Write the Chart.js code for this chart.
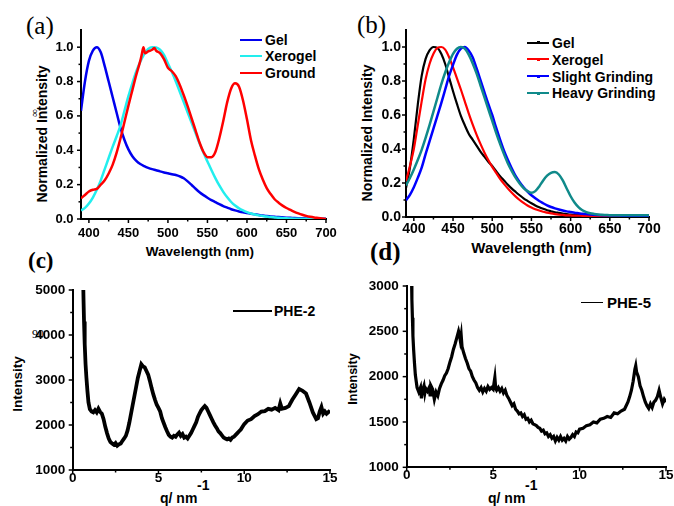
<!DOCTYPE html>
<html><head><meta charset="utf-8">
<script src="https://cdn.jsdelivr.net/npm/chart.js@4"></script>
<style>
body{margin:0;background:#fff;}
#wrap{position:relative;width:674px;height:506px;overflow:hidden;background:#fff;font-family:'Liberation Sans',Arial,sans-serif;font-weight:bold;color:#000}
canvas{position:absolute;left:0;top:0}
.t{position:absolute;white-space:nowrap;line-height:1}
.s{font-family:'Liberation Serif','Times New Roman',serif}
.r{transform:translate(-50%,-50%) rotate(-90deg)}
.c{transform:translateX(-50%)}
.ln{position:absolute}
</style></head><body><div id="wrap">

<div class="t s" style="left:26px;top:13px;font-size:25px;font-weight:normal">(a)</div>
<div class="t s" style="left:357px;top:12px;font-size:25px;font-weight:normal">(b)</div>
<div class="t s" style="left:28px;top:248.7px;font-size:23px;font-weight:bold">(c)</div>
<div class="t s" style="left:370px;top:239px;font-size:25px;font-weight:bold">(d)</div>

<div class="t r" style="left:41.7px;top:134px;font-size:14px">Normalized Intensity</div>
<div class="t s r" style="left:34px;top:112.5px;font-size:11px;font-weight:normal">∞</div>
<div class="t c" style="left:200px;top:244.6px;font-size:13.5px">Wavelength (nm)</div>
<div class="t r" style="left:366.7px;top:132.5px;font-size:14px">Normalized Intensity</div>
<div class="t c" style="left:531.5px;top:239.6px;font-size:15px">Wavelength (nm)</div>
<div class="t r" style="left:17.5px;top:384px;font-size:13.5px">Intensity</div>
<div class="t s" style="left:32px;top:327.5px;font-size:12px;font-weight:normal">90</div>
<div class="t" style="left:160px;top:491px;font-size:14px">q/ nm</div>
<div class="t" style="left:197px;top:478px;font-size:14px">-1</div>
<div class="t r" style="left:352.5px;top:379px;font-size:12.5px">Intensity</div>
<div class="t" style="left:488px;top:491px;font-size:14px">q/ nm</div>
<div class="t" style="left:525px;top:478px;font-size:14px">-1</div>

<div class="ln" style="left:240px;top:38.8px;width:22px;height:2.5px;background:#0000ee"></div>
<div class="t" style="left:265px;top:33.2px;font-size:14px">Gel</div>
<div class="ln" style="left:240px;top:54.8px;width:22px;height:2.5px;background:#22eeee"></div>
<div class="t" style="left:265px;top:49.2px;font-size:14px">Xerogel</div>
<div class="ln" style="left:240px;top:71.5px;width:22px;height:2.5px;background:#ff0000"></div>
<div class="t" style="left:265px;top:65.9px;font-size:14px">Ground</div>

<div class="ln" style="left:527px;top:41.5px;width:22px;height:2px;background:#000"></div>
<div class="ln" style="left:536.5px;top:41px;width:3px;height:3px;background:#000"></div>
<div class="t" style="left:552px;top:35.7px;font-size:14px">Gel</div>
<div class="ln" style="left:527px;top:58.4px;width:22px;height:2px;background:#ff0000"></div>
<div class="ln" style="left:536.5px;top:57.9px;width:3px;height:3px;background:#ff0000"></div>
<div class="t" style="left:552px;top:52.6px;font-size:14px">Xerogel</div>
<div class="ln" style="left:527px;top:75.3px;width:22px;height:2px;background:#0000ff"></div>
<div class="ln" style="left:536.5px;top:74.8px;width:3px;height:3px;background:#0000ff"></div>
<div class="t" style="left:552px;top:69.5px;font-size:14px">Slight Grinding</div>
<div class="ln" style="left:527px;top:92.2px;width:22px;height:2px;background:#108a8a"></div>
<div class="ln" style="left:536.5px;top:91.7px;width:3px;height:3px;background:#108a8a"></div>
<div class="t" style="left:552px;top:86.4px;font-size:14px">Heavy Grinding</div>

<div class="ln" style="left:233px;top:309.5px;width:39px;height:2.5px;background:#000"></div>
<div class="t" style="left:274px;top:303.9px;font-size:14px">PHE-2</div>
<div class="ln" style="left:581px;top:302px;width:22px;height:1.4px;background:#000"></div>
<div class="t" style="left:607px;top:295.4px;font-size:15px">PHE-5</div>

<canvas id="ca" width="674" height="506"></canvas>
<canvas id="cb" width="674" height="506"></canvas>
<canvas id="cc" width="674" height="506"></canvas>
<canvas id="cd" width="674" height="506"></canvas>
</div>
<script>
// ---------- data ----------
const wl5 = [390,395,400,405,410,415,420,425,430,435,440,445,450,455,460,465,470,475,480,485,490,495,500,505,510,515,520,525,530,535,540,545,550,555,560,565,570,575,580,585,590,595,600,605,610,615,620,625,630,635,640,645,650,655,660,665,670,675,680,685,690,695,700];

// tick labels
const wlTicks = [400,450,500,550,600,650,700];
const normTicks = [0.0,0.2,0.4,0.6,0.8,1.0];
const qTicks = [0,5,10,15];
const cTicksY = [1000,2000,3000,4000,5000];
const dTicksY = [1000,1500,2000,2500,3000];

// panel (a)
const aGel = [0.63,0.80,0.92,0.98,1.00,0.97,0.89,0.80,0.71,0.62,0.53,0.46,0.405,
  0.365,0.338,0.32,0.308,0.298,0.29,0.284,0.277,0.271,0.266,
  0.261,0.256,0.248,0.237,0.219,0.198,0.176,0.156,0.139,0.124,
  0.11,0.098,0.086,0.075,0.066,0.057,0.05,0.044,0.039,0.035,
  0.031,0.027,0.023,0.02,0.017,0.015,0.013,0.011,0.0095,0.008,
  0.007,0.006,0.005,0.004,0.0035,0.003,0.0025,0.002,0.0015,0.001];
const aXerogel = [0.05,0.065,0.09,0.125,0.17,0.225,0.29,0.355,0.42,0.48,0.545,0.63,0.715,
  0.79,0.86,0.915,0.96,0.99,1.0,0.998,0.985,0.955,0.905,
  0.855,0.80,0.74,0.68,0.62,0.56,0.50,0.44,0.385,0.335,
  0.285,0.238,0.195,0.158,0.126,0.099,0.078,0.062,0.05,0.04,
  0.032,0.026,0.021,0.017,0.014,0.011,0.009,0.007,0.0055,0.004,
  0.003,0.002,0.0015,0.001,0.0008,0.0005,0.0003,0.0002,0.0001,0];
const aGroundWl = [390,395,400,405,410,415,420,425,430,435,440,445,450,455,460,465,467,469,471,475,480,483,485,490,495,500,505,510,515,520,525,530,535,540,545,550,555,560,565,570,575,580,585,590,595,600,605,610,615,620,625,630,635,640,645,650,655,660,665,670,675,680,685,690,695,700];
const aGround = [0.12,0.14,0.16,0.17,0.175,0.2,0.225,0.265,0.315,0.385,0.47,0.565,0.66,0.75,0.84,0.92,
  0.96,1.0,0.965,0.975,0.985,0.995,0.98,
  0.965,0.93,0.88,0.86,0.83,0.78,0.72,0.655,0.585,0.515,0.445,0.39,0.36,0.36,0.39,0.47,0.57,0.68,0.76,0.79,0.77,0.69,0.58,
  0.46,0.37,0.29,0.23,0.18,0.145,0.115,0.095,0.078,0.064,0.053,0.042,0.033,0.025,0.018,0.013,0.009,0.006,0.003,0.0];

// panel (b)
const bGel = [0.17,0.29,0.46,0.66,0.83,0.93,0.98,1.0,0.995,0.96,0.9,0.82,0.74,
  0.665,0.595,0.54,0.49,0.455,0.42,0.385,0.355,0.325,0.30,
  0.27,0.24,0.215,0.19,0.167,0.147,0.128,0.11,0.095,0.081,
  0.068,0.057,0.048,0.04,0.034,0.028,0.024,0.02,0.017,0.014,
  0.012,0.011,0.01,0.009,0.009,0.008,0.008,0.008,0.008,0.008,
  0.008,0.008,0.008,0.008,0.008,0.008,0.008,0.008,0.008,0.008];
const bXerogel = [0.21,0.3,0.4,0.54,0.68,0.81,0.9,0.96,0.995,1.0,0.985,0.94,0.88,
  0.815,0.75,0.68,0.61,0.545,0.485,0.43,0.38,0.335,0.295,
  0.26,0.225,0.195,0.168,0.143,0.12,0.1,0.083,0.068,0.056,
  0.046,0.038,0.031,0.026,0.021,0.017,0.014,0.012,0.01,0.009,
  0.008,0.008,0.007,0.007,0.007,0.007,0.007,0.007,0.007,0.007,
  0.007,0.007,0.007,0.007,0.007,0.007,0.007,0.007,0.007,0.007];
const bSlight = [0.098,0.13,0.175,0.23,0.29,0.37,0.445,0.52,0.595,0.67,0.75,0.83,0.895,
  0.955,0.99,1.0,0.98,0.94,0.875,0.805,0.735,0.665,0.6,
  0.525,0.455,0.39,0.335,0.285,0.24,0.205,0.175,0.15,0.128,
  0.11,0.094,0.081,0.069,0.059,0.051,0.044,0.038,0.033,0.029,
  0.025,0.022,0.019,0.017,0.015,0.013,0.012,0.011,0.01,0.009,
  0.009,0.009,0.008,0.008,0.008,0.008,0.008,0.008,0.008,0.008];
const bHeavy = [0.186,0.23,0.28,0.335,0.395,0.465,0.54,0.62,0.7,0.78,0.85,0.91,0.96,
  0.99,1.0,0.99,0.955,0.905,0.845,0.775,0.705,0.635,0.565,
  0.495,0.43,0.37,0.315,0.27,0.23,0.197,0.17,0.152,0.142,
  0.152,0.18,0.215,0.243,0.26,0.264,0.25,0.215,0.168,0.122,
  0.085,0.058,0.04,0.029,0.022,0.018,0.015,0.013,0.012,0.011,
  0.011,0.01,0.01,0.01,0.01,0.01,0.01,0.01,0.01,0.01];

// panel (c)
const cQ = [0.60,0.63,0.66,0.70,0.75,0.80,0.86,0.92,1.0,1.1,1.2,1.3,1.4,1.5,1.6,1.7,1.8,1.9,2.0,2.1,2.2,2.3,2.4,2.5,2.6,2.7,2.8,2.9,3.0,3.1,3.2,3.3,3.4,3.5,3.6,3.7,3.8,3.9,4.0,4.1,4.2,4.3,4.4,4.5,4.6,4.7,4.8,4.9,5.0,5.1,5.2,5.3,5.4,5.5,5.6,5.7,5.8,5.9,6.0,6.1,6.2,6.3,6.4,6.5,6.6,6.7,6.8,6.9,7.0,7.1,7.2,7.3,7.4,7.5,7.6,7.7,7.8,7.9,8.0,8.1,8.2,8.3,8.4,8.5,8.6,8.7,8.8,8.9,9.0,9.1,9.2,9.3,9.4,9.5,9.6,9.7,9.8,9.9,10.0,10.2,10.4,10.6,10.8,11.0,11.2,11.4,11.6,11.8,12.0,12.1,12.2,12.4,12.6,12.8,13.0,13.2,13.3,13.4,13.6,13.8,14.0,14.2,14.3,14.4,14.5,14.6,14.7,14.8,15.0];
const cI = [5400,4800,4300,3800,3350,3050,2750,2500,2350,2300,2280,2330,2280,2360,2290,2250,2130,1960,1820,1700,1620,1590,1560,1600,1540,1570,1590,1650,1700,1760,1880,2050,2250,2450,2650,2850,3050,3200,3350,3300,3280,3200,3120,2980,2820,2680,2560,2450,2380,2300,2150,2050,1950,1860,1780,1740,1720,1760,1740,1790,1830,1760,1800,1720,1740,1700,1760,1820,1900,1980,2060,2180,2260,2330,2380,2420,2380,2300,2220,2140,2060,1990,1930,1860,1820,1770,1720,1700,1680,1700,1670,1720,1740,1780,1820,1860,1900,1960,2020,2100,2130,2200,2240,2300,2310,2360,2340,2380,2330,2480,2360,2380,2420,2560,2680,2800,2780,2760,2700,2500,2280,2130,2150,2300,2400,2250,2300,2250,2320];

// panel (d)
const dQ = [0.27,0.3,0.33,0.36,0.4,0.45,0.5,0.55,0.6,0.7,0.8,0.85,0.9,1.0,1.05,1.1,1.2,1.3,1.35,1.4,1.5,1.6,1.7,1.8,1.9,2.0,2.1,2.2,2.3,2.4,2.5,2.6,2.7,2.8,2.9,3.0,3.05,3.1,3.15,3.2,3.3,3.4,3.5,3.6,3.7,3.8,3.9,4.0,4.1,4.2,4.3,4.4,4.5,4.6,4.7,4.8,4.9,5.0,5.1,5.15,5.2,5.3,5.4,5.5,5.6,5.7,5.8,5.9,6.0,6.1,6.2,6.3,6.4,6.5,6.6,6.7,6.8,6.9,7.0,7.1,7.2,7.3,7.4,7.5,7.6,7.7,7.8,7.9,8.0,8.1,8.2,8.3,8.4,8.5,8.6,8.7,8.8,8.9,9.0,9.1,9.2,9.3,9.4,9.5,9.6,9.7,9.8,9.9,10.0,10.2,10.4,10.6,10.8,11.0,11.2,11.4,11.6,11.8,12.0,12.2,12.4,12.6,12.8,12.9,13.0,13.1,13.2,13.25,13.3,13.4,13.5,13.6,13.7,13.8,13.9,14.0,14.1,14.2,14.3,14.4,14.5,14.6,14.7,14.8,14.9,15.0];
const dI = [3200,2850,2650,2450,2300,2150,2020,1950,1880,1830,1880,1760,1840,1900,1820,1870,1840,1880,1800,1900,1860,1750,1830,1790,1870,1920,1960,2010,2040,2090,2160,2220,2300,2360,2430,2500,2460,2400,2460,2330,2260,2200,2150,2090,2060,2000,1960,1930,1880,1850,1880,1830,1870,1840,1890,1860,1880,1860,1990,1870,1850,1880,1840,1870,1820,1850,1790,1760,1720,1680,1700,1640,1620,1590,1600,1560,1580,1530,1540,1500,1520,1480,1470,1460,1440,1430,1400,1410,1370,1380,1340,1360,1320,1340,1290,1330,1300,1340,1300,1320,1290,1340,1310,1330,1360,1340,1390,1380,1420,1430,1460,1470,1500,1490,1530,1540,1560,1550,1600,1590,1620,1640,1720,1780,1850,1950,2080,2120,2050,2000,1900,1850,1780,1720,1680,1650,1700,1660,1720,1740,1780,1850,1770,1700,1750,1720];

// ---------- helpers ----------
function pts(xs, ys){ return xs.map((x,i)=>({x:x, y:ys[i]})); }
function range(a,b,s){ const r=[]; for(let v=a; v<=b+1e-9; v+=s) r.push(Math.round(v*1000)/1000); return r; }

// tick marks + x tick labels, placed through the chart's own scales
const tickPlugin = {
  id: 'tickMarks',
  afterDraw(chart, args, o) {
    const ctx = chart.ctx, xs = chart.scales.x, ys = chart.scales.y;
    const area = chart.chartArea;
    ctx.save();
    ctx.strokeStyle = '#000';
    ctx.lineWidth = 1.5;
    const dx = (vals, len) => vals.forEach(v => {
      const p = xs.getPixelForValue(v);
      ctx.beginPath(); ctx.moveTo(p, area.bottom); ctx.lineTo(p, area.bottom + len); ctx.stroke();
    });
    const dy = (vals, len) => vals.forEach(v => {
      const p = ys.getPixelForValue(v);
      ctx.beginPath(); ctx.moveTo(area.left, p); ctx.lineTo(area.left - len, p); ctx.stroke();
    });
    dx(o.xMajor, 4); dx(o.xMinor, 2.5);
    dy(o.yMajor, 4); dy(o.yMinor, 2.5);
    ctx.fillStyle = '#000';
    ctx.font = 'bold ' + o.xFont + "px 'Liberation Sans', Arial, sans-serif";
    ctx.textAlign = 'center';
    ctx.textBaseline = 'middle';
    const yc = area.bottom + o.xPad + o.xFont * 0.6;
    o.xLabels.forEach(v => { ctx.fillText(String(v), xs.getPixelForValue(v), yc); });
    ctx.restore();
  }
};

Chart.defaults.font.family = "'Liberation Sans', Arial, sans-serif";
Chart.defaults.font.weight = 'bold';
Chart.defaults.color = '#000';

function makeChart(id, c) {
  return new Chart(document.getElementById(id), {
    type: 'line',
    data: { datasets: c.datasets },
    options: {
      responsive: false, animation: false, devicePixelRatio: 1, events: [],
      layout: { padding: c.padding },
      plugins: { legend: {display:false}, tooltip: {enabled:false},
                 tickMarks: Object.assign({ xLabels: c.xTicks, xPad: c.xPad, xFont: c.xFont }, c.marks) },
      elements: { point: { radius: 0 } },
      scales: {
        x: {
          type: 'linear', min: c.xMin, max: c.xMax,
          afterFit: s => { s.height = 30; },
          afterBuildTicks: s => { s.ticks = c.xTicks.map(v => ({ value: v })); },
          grid: { display:false, drawTicks:false },
          border: { display:true, color:'#000', width:2 },
          ticks: { display:false }
        },
        y: {
          type: 'linear', min: c.yMin, max: c.yMax,
          afterFit: s => { s.width = 60; },
          afterBuildTicks: s => { s.ticks = c.yTicks.map(v => ({ value: v })); },
          grid: { display:false, drawTicks:false },
          border: { display:true, color:'#000', width:2 },
          ticks: { autoSkip:false, padding: c.yPad, color:'#000',
                   font: { size: c.yFont, weight:'bold' }, callback: c.yCb }
        }
      }
    },
    plugins: [tickPlugin]
  });
}

const plainCb = v => String(v);
const normCb = v => Number(v).toFixed(1);

// (a) area: L81 T30 R326 B219
makeChart('ca', {
  padding: { left: 21, top: 30, right: 348, bottom: 257 },
  xMin: 390, xMax: 700, xTicks: wlTicks, xPad: 6.5, xFont: 13,
  yMin: 0, yMax: 1.1, yTicks: normTicks, yPad: 7.5, yFont: 13, yCb: normCb,
  marks: { xMajor: range(400,700,50), xMinor: range(425,675,50), yMajor: range(0,1,0.2), yMinor: range(0.1,0.9,0.2) },
  datasets: [
    { data: pts(wl5, aGel), borderColor:'#0000ee', borderWidth:2.5, cubicInterpolationMode:'monotone', order:2 },
    { data: pts(wl5, aXerogel), borderColor:'#22eeee', borderWidth:2.5, cubicInterpolationMode:'monotone', order:1 },
    { data: pts(aGroundWl, aGround), borderColor:'#ff0000', borderWidth:2.5, cubicInterpolationMode:'monotone', order:0 }
  ]
});

// (b) area: L406 T30 R649 B217
makeChart('cb', {
  padding: { left: 346, top: 30, right: 25, bottom: 259 },
  xMin: 390, xMax: 700, xTicks: wlTicks, xPad: 4, xFont: 14,
  yMin: 0, yMax: 1.1, yTicks: normTicks, yPad: 5, yFont: 14, yCb: normCb,
  marks: { xMajor: range(400,700,50), xMinor: range(425,675,50), yMajor: range(0,1,0.2), yMinor: range(0.1,0.9,0.2) },
  datasets: [
    { data: pts(wl5, bGel), borderColor:'#000000', borderWidth:2.2, cubicInterpolationMode:'monotone', order:3 },
    { data: pts(wl5, bXerogel), borderColor:'#ff0000', borderWidth:2.2, cubicInterpolationMode:'monotone', order:2 },
    { data: pts(wl5, bSlight), borderColor:'#0000ff', borderWidth:2.5, cubicInterpolationMode:'monotone', order:1 },
    { data: pts(wl5, bHeavy), borderColor:'#108a8a', borderWidth:2.5, cubicInterpolationMode:'monotone', order:0 }
  ]
});

// (c) area: L72.7 T290 R330 B470
makeChart('cc', {
  padding: { left: 12.7, top: 290, right: 344, bottom: 6 },
  xMin: 0, xMax: 15, xTicks: qTicks, xPad: 0, xFont: 13.5,
  yMin: 1000, yMax: 5000, yTicks: cTicksY, yPad: 7.5, yFont: 13.5, yCb: plainCb,
  marks: { xMajor: range(0,15,5), xMinor: range(2.5,12.5,5), yMajor: range(1000,5000,1000), yMinor: range(1500,4500,1000) },
  datasets: [
    { data: pts(cQ, cI), borderColor:'#000', borderWidth:3.8, tension:0 }
  ]
});

// (d) area: L406.7 T286 R666 B467.3
makeChart('cd', {
  padding: { left: 346.7, top: 286, right: 8, bottom: 8.7 },
  xMin: 0, xMax: 15, xTicks: qTicks, xPad: 0, xFont: 13.5,
  yMin: 1000, yMax: 3000, yTicks: dTicksY, yPad: 8, yFont: 13.5, yCb: plainCb,
  marks: { xMajor: range(0,15,5), xMinor: range(2.5,12.5,5), yMajor: range(1000,3000,500), yMinor: range(1250,2750,500) },
  datasets: [
    { data: pts(dQ, dI), borderColor:'#000', borderWidth:3.2, tension:0 }
  ]
});
</script>
</body></html>
